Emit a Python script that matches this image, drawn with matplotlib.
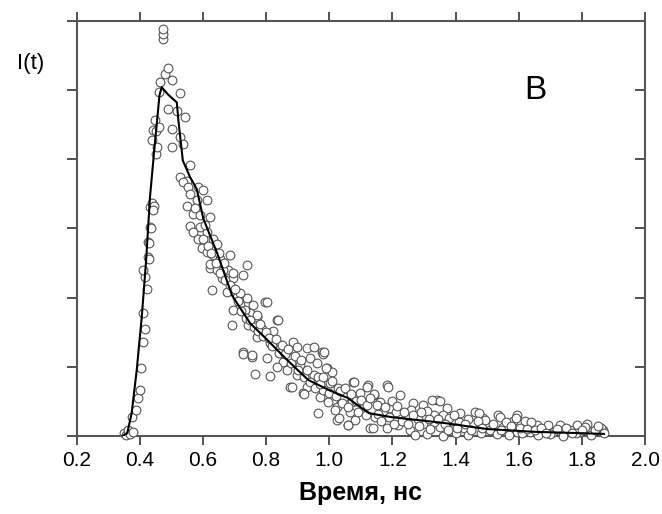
import matplotlib
matplotlib.use("Agg")
import matplotlib.pyplot as plt
import numpy as np

plt.rcParams["font.family"] = ["Liberation Sans", "DejaVu Sans"]
plt.rcParams["xtick.labelsize"] = 15

# measured decay points (time in ns, intensity in y-tick units)
scatter_pts = [
    (0.350, 0.05), (0.355, 0.02), (0.362, 0.08), (0.370, 0.03), (0.378, 0.06),
    (0.375, 0.28), (0.387, 0.38), (0.393, 0.55), (0.400, 0.67), (0.405, 0.98),
    (0.410, 1.36), (0.415, 1.55), (0.411, 1.77), (0.416, 2.30), (0.422, 2.13),
    (0.411, 2.40), (0.427, 2.59), (0.427, 2.80), (0.432, 3.02), (0.432, 3.31),
    (0.438, 3.36), (0.438, 4.27), (0.443, 4.42), (0.448, 4.56), (0.452, 4.08),
    (0.462, 4.97), (0.464, 5.11), (0.472, 5.74), (0.474, 5.81), (0.474, 5.88),
    (0.480, 5.23), (0.490, 5.31), (0.501, 5.14), (0.527, 4.95), (0.490, 4.73),
    (0.517, 4.70), (0.543, 4.61), (0.501, 4.44), (0.527, 4.32), (0.501, 4.17),
    (0.538, 4.22), (0.559, 3.91), (0.527, 3.74), (0.548, 3.69), (0.585, 3.60),
    (0.538, 3.67), (0.554, 3.60), (0.601, 3.55), (0.548, 3.33), (0.580, 3.41),
    (0.612, 3.41), (0.569, 3.21), (0.622, 3.16), (0.559, 3.04), (0.591, 3.02),
    (0.569, 2.95), (0.612, 2.95), (0.633, 2.85), (0.643, 2.78), (0.596, 2.71),
    (0.612, 2.66), (0.686, 2.61), (0.633, 2.61), (0.654, 2.56), (0.622, 2.42),
    (0.738, 2.47), (0.643, 2.40), (0.680, 2.40), (0.728, 2.32), (0.659, 2.28),
    (0.696, 2.28), (0.628, 2.11), (0.675, 2.08), (0.707, 2.01), (0.738, 1.99),
    (0.717, 1.89), (0.759, 1.89), (0.749, 1.77), (0.770, 1.72), (0.622, 2.49),
    (0.664, 2.40), (0.696, 2.35), (0.717, 2.06), (0.796, 1.94), (0.696, 1.82),
    (0.733, 1.82), (0.770, 1.75), (0.834, 1.67), (0.691, 1.60), (0.744, 1.60),
    (0.786, 1.55), (0.823, 1.51), (0.770, 1.43), (0.886, 1.36), (0.812, 1.34),
    (0.844, 1.27), (0.929, 1.27), (0.976, 1.22), (0.728, 1.22), (0.754, 1.14),
    (0.802, 1.12), (0.876, 1.12), (0.939, 1.12), (0.854, 1.07), (0.907, 1.02),
    (0.992, 0.98), (0.765, 0.90), (0.876, 0.71), (0.929, 0.71), (1.002, 0.76),
    (0.971, 0.57), (1.013, 0.52), (1.024, 0.42), (0.834, 1.00), (0.812, 0.86),
    (0.865, 0.95), (0.897, 0.88), (0.950, 0.88), (0.918, 0.62), (0.728, 1.19),
    (0.754, 1.17), (0.981, 1.19), (1.008, 0.93), (1.076, 0.78), (1.124, 0.74),
    (1.182, 0.74), (0.981, 0.66), (1.029, 0.69), (1.045, 0.57), (1.097, 0.62),
    (1.140, 0.59), (1.224, 0.59), (0.997, 0.49), (1.071, 0.49), (1.161, 0.49),
    (1.266, 0.47), (1.340, 0.52), (1.298, 0.45), (1.018, 0.38), (1.108, 0.40),
    (1.192, 0.40), (1.372, 0.40), (1.024, 0.23), (1.082, 0.23), (1.066, 0.35),
    (1.145, 0.28), (1.245, 0.28), (1.330, 0.30), (1.414, 0.33), (1.462, 0.35),
    (1.060, 0.16), (1.129, 0.11), (1.219, 0.16), (1.256, 0.09), (1.298, 0.18),
    (1.351, 0.13), (1.388, 0.21), (1.425, 0.11), (1.488, 0.26), (1.499, 0.16),
    (1.182, 0.11), (1.535, 0.30), (1.493, 0.23), (1.456, 0.18), (1.594, 0.30),
    (1.583, 0.21), (1.620, 0.21), (1.551, 0.13), (1.509, 0.09), (1.657, 0.16),
    (1.694, 0.16), (1.731, 0.16), (1.784, 0.16), (1.816, 0.18), (1.763, 0.09),
    (1.868, 0.09), (1.710, 0.06), (1.636, 0.06), (1.594, 0.06), (1.826, 0.06),
    (1.795, 0.06), (1.185, 0.71), (1.325, 0.52), (1.350, 0.50), (1.474, 0.33),
    (1.540, 0.28), (1.590, 0.26), (1.640, 0.20), (1.810, 0.13), (1.860, 0.11),
    (1.078, 0.78), (1.118, 0.71), (1.140, 0.60), (0.964, 0.33), (1.031, 0.26),
    (1.058, 0.16), (1.138, 0.11), (0.990, 0.98), (0.965, 0.85), (0.950, 1.29),
    (0.983, 1.22), (0.883, 0.71), (0.920, 0.60), (0.897, 1.29), (0.836, 1.67),
    (0.803, 1.94), (0.445, 3.33), (0.440, 3.26), (0.435, 3.00), (0.430, 2.55),
    (0.430, 2.79), (0.455, 4.17), (0.450, 4.41), (0.460, 4.46), (1.210, 0.35),
    (1.230, 0.22), (1.260, 0.38), (1.280, 0.25), (1.310, 0.36), (1.330, 0.20),
    (1.360, 0.30), (1.380, 0.26), (1.410, 0.20), (1.440, 0.25), (1.200, 0.50),
    (1.170, 0.35), (1.150, 0.45), (1.270, 0.02), (1.310, 0.03), (1.360, 0.00),
    (1.400, 0.04), (1.440, 0.02), (1.480, 0.05), (1.530, 0.03), (1.570, 0.01),
    (1.610, 0.04), (1.660, 0.02), (1.700, 0.03), (1.740, 0.00), (1.780, 0.04),
    (1.830, 0.02), (1.870, 0.04),
    # denser band along the decay
    (0.560, 3.50), (0.575, 3.30), (0.590, 3.20), (0.605, 3.05), (0.585, 2.85),
    (0.600, 2.85), (0.615, 2.75), (0.625, 2.65), (0.650, 2.65), (0.665, 2.50),
    (0.640, 2.50), (0.655, 2.35), (0.670, 2.25), (0.685, 2.18), (0.700, 2.12),
    (0.710, 1.95), (0.720, 1.80), (0.735, 1.70), (0.750, 1.68), (0.760, 1.58),
    (0.775, 1.52), (0.780, 1.62), (0.790, 1.45), (0.800, 1.50), (0.810, 1.42),
    (0.820, 1.30), (0.830, 1.40), (0.840, 1.20), (0.850, 1.32), (0.860, 1.18),
    (0.870, 1.25), (0.880, 1.05), (0.890, 1.15), (0.900, 0.95), (0.910, 1.10),
    (0.920, 0.85), (0.930, 0.95), (0.940, 0.78), (0.955, 0.70), (0.960, 1.05),
    (0.970, 0.75), (0.980, 0.85), (1.000, 0.62), (1.010, 0.80), (1.020, 0.58),
    (1.035, 0.65), (1.040, 0.48), (1.050, 0.70), (1.060, 0.42), (1.070, 0.60),
    (1.085, 0.50), (1.090, 0.35), (1.100, 0.52), (1.115, 0.30), (1.120, 0.45),
    (1.130, 0.55), (1.155, 0.32), (1.165, 0.22), (1.175, 0.42), (1.190, 0.28),
    (1.205, 0.18), (1.215, 0.44), (1.235, 0.35), (1.250, 0.18), (1.265, 0.30),
    (1.285, 0.14), (1.290, 0.34), (1.315, 0.24), (1.320, 0.10), (1.345, 0.24),
    (1.365, 0.18), (1.375, 0.08), (1.395, 0.30), (1.405, 0.12), (1.430, 0.18),
    (1.450, 0.08), (1.470, 0.22), (1.485, 0.12), (1.520, 0.18), (1.545, 0.08),
    (1.560, 0.20), (1.575, 0.14), (1.605, 0.12), (1.625, 0.10), (1.650, 0.08),
    (1.670, 0.12), (1.685, 0.05), (1.720, 0.10), (1.750, 0.12), (1.770, 0.05),
    (1.800, 0.09), (1.840, 0.08), (1.850, 0.14),
]

# fitted curve
fit_t = [0.345, 0.360, 0.374, 0.390, 0.406, 0.420, 0.432, 0.446, 0.462, 0.469,
         0.490, 0.517, 0.522, 0.536, 0.559, 0.580, 0.601, 0.645, 0.692, 0.749,
         0.803, 0.866, 0.933, 1.000, 1.058, 1.125, 1.200, 1.360, 1.500, 1.650,
         1.800, 1.870]
fit_i = [0.00, 0.04, 0.33, 0.95, 1.72, 2.55, 3.45, 4.15, 4.92, 5.04,
         4.93, 4.82, 4.56, 3.98, 3.74, 3.57, 3.14, 2.64, 2.03, 1.63,
         1.39, 1.10, 0.81, 0.66, 0.55, 0.33, 0.27, 0.19, 0.10, 0.06,
         0.04, 0.03]

x_ticks = [0.2, 0.4, 0.6, 0.8, 1.0, 1.2, 1.4, 1.6, 1.8, 2.0]
x_labels = ["0.2", "0.4", "0.6", "0.8", "1.0", "1.2", "1.4", "1.6", "1.8", "2.0"]
y_ticks = [0, 1, 2, 3, 4, 5, 6]

t_pts = np.array([p[0] for p in scatter_pts])
i_pts = np.array([p[1] for p in scatter_pts])

fig = plt.figure(figsize=(6.62, 5.14), dpi=100)
ax = fig.add_axes([0.1159, 0.1518, 0.8585, 0.8079])

ax.plot(t_pts, i_pts, ls="none", marker="o", ms=6.3, mfc="white",
        mec="#555555", mew=0.8, clip_on=False, zorder=3)
ax.plot(fit_t, fit_i, color="black", lw=1.5, zorder=4)

ax.set_xlim(0.2, 2.0)
ax.set_ylim(0, 6)
ax.set_xticks(x_ticks)
ax.set_xticklabels(x_labels)
ax.set_yticks(y_ticks)
ax.set_yticklabels([])

ax.tick_params(axis="x", which="both", direction="out", top=True, length=6.5,
               width=1.2, color="#333333", pad=4)
ax.tick_params(axis="y", which="both", direction="out", left=True, right=False,
               length=7, width=1.2, color="#333333")

# inward ticks on the right side
ax_r = ax.secondary_yaxis("right")
ax_r.set_yticks(y_ticks[1:-1])
ax_r.set_yticklabels([])
ax_r.tick_params(direction="in", length=7, width=1.2, color="#333333")
ax_r.spines["right"].set_visible(False)

for s in ax.spines.values():
    s.set_color("#555555")
    s.set_linewidth(1.5)

ax.set_xlabel("Время, нс", family=["Liberation Sans Narrow", "Liberation Sans"],
              fontweight="bold", fontsize=18, labelpad=8)
fig.text(0.046, 0.877, "I(t)", family=["Liberation Sans Narrow", "Liberation Sans"],
         fontsize=16, ha="center", va="center")
ax.text(1.652, 4.99, "B", family=["Liberation Sans Narrow", "Liberation Sans"],
        fontsize=24, ha="center", va="center")

fig.savefig("out.png", dpi=100)
